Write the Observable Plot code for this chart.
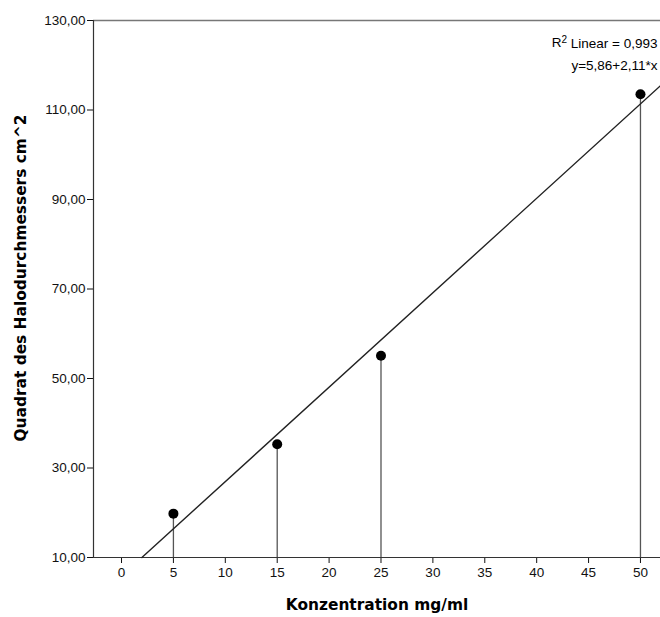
<!DOCTYPE html>
<html>
<head>
<meta charset="utf-8">
<script src="https://cdn.jsdelivr.net/npm/d3@7"></script>
<script src="https://cdn.jsdelivr.net/npm/@observablehq/plot@0.6"></script>
<style>
  html, body { margin: 0; padding: 0; background: #fff; overflow: hidden; }
  svg { overflow: hidden; }
</style>
</head>
<body>
<div id="chart"></div>
<script>
// Data
const concentration = [5, 15, 25, 50];            // mg/ml
const haloSquared = [19.8, 35.3, 55.1, 113.5];     // cm^2
const fitIntercept = 5.86;
const fitSlope = 2.11;
const rSquared = "0,993";
const fitLabel = "y=5,86+2,11*x";
const xTicks = [0, 5, 10, 15, 20, 25, 30, 35, 40, 45, 50];
const yTicks = [10, 30, 50, 70, 90, 110, 130];
const xDomain = [-2.7, 51.93];
const yDomain = [10, 130];
const xTitle = "Konzentration mg/ml";
const yTitle = "Quadrat des Halodurchmessers cm^2";

const points = concentration.map((c, i) => ({x: c, y: haloSquared[i]}));
const fitStart = (yDomain[0] - fitIntercept) / fitSlope;
const fitLine = [fitStart, xDomain[1]].map(x => ({x, y: fitIntercept + fitSlope * x}));

const fmtY = d => d.toFixed(2).replace(".", ",");
const tickFont = "'Liberation Sans', Arial, sans-serif";
const titleFont = "'DejaVu Sans', Verdana, sans-serif";

const chart = Plot.plot({
  width: 660,
  height: 617,
  marginLeft: 93,
  marginTop: 20,
  marginBottom: 60,
  marginRight: 0,
  style: {fontFamily: tickFont, fontSize: "13.5px", color: "#111", background: "#fff"},
  x: {domain: xDomain, ticks: xTicks, tickFormat: d => String(d), tickSize: 6, tickPadding: 4, label: null},
  y: {domain: yDomain, ticks: yTicks, tickFormat: fmtY, tickSize: 6, tickPadding: 2, label: null},
  marks: [
    Plot.ruleY([yDomain[1]], {stroke: "#777", strokeWidth: 1.5}),
    Plot.ruleY([yDomain[0]], {stroke: "#333", strokeWidth: 1.2}),
    Plot.ruleX([xDomain[0]], {stroke: "#333", strokeWidth: 1.2}),
    Plot.ruleX(points, {x: "x", y1: yDomain[0], y2: "y", stroke: "#555", strokeWidth: 1.3}),
    Plot.line(fitLine, {x: "x", y: "y", stroke: "#222", strokeWidth: 1.4}),
    Plot.dot(points, {x: "x", y: "y", r: 5, fill: "#000", stroke: "none"}),
    Plot.text([`R2 Linear = ${rSquared}`], {frameAnchor: "top-right", dx: -3, dy: 22, textAnchor: "end", lineAnchor: "middle", fontSize: 13.5, fill: "#000", className: "r2label"}),
    Plot.text([fitLabel], {frameAnchor: "top-right", dx: -3, dy: 45, textAnchor: "end", lineAnchor: "middle", fontSize: 13.5, fill: "#000"}),
    Plot.text([xTitle], {frameAnchor: "bottom", dy: 48, textAnchor: "middle", lineAnchor: "middle", fontFamily: titleFont, fontWeight: "bold", fontSize: 15.4, fill: "#000"}),
    Plot.text([yTitle], {frameAnchor: "left", dx: -72, dy: -11, rotate: -90, textAnchor: "middle", lineAnchor: "middle", fontFamily: titleFont, fontWeight: "bold", fontSize: 15.4, fill: "#000"})
  ]
});
document.getElementById("chart").appendChild(chart);

// Render the "2" of R2 as a superscript
d3.select(chart).selectAll("g.r2label text").each(function() {
  const t = d3.select(this);
  const s = t.text();
  t.text(null);
  t.append("tspan").text(s.slice(0, 1));
  t.append("tspan").attr("dy", "-0.4em").attr("font-size", "10px").text(s.slice(1, 2));
  t.append("tspan").attr("dy", "0.4em").text(s.slice(2));
});
</script>
</body>
</html>
